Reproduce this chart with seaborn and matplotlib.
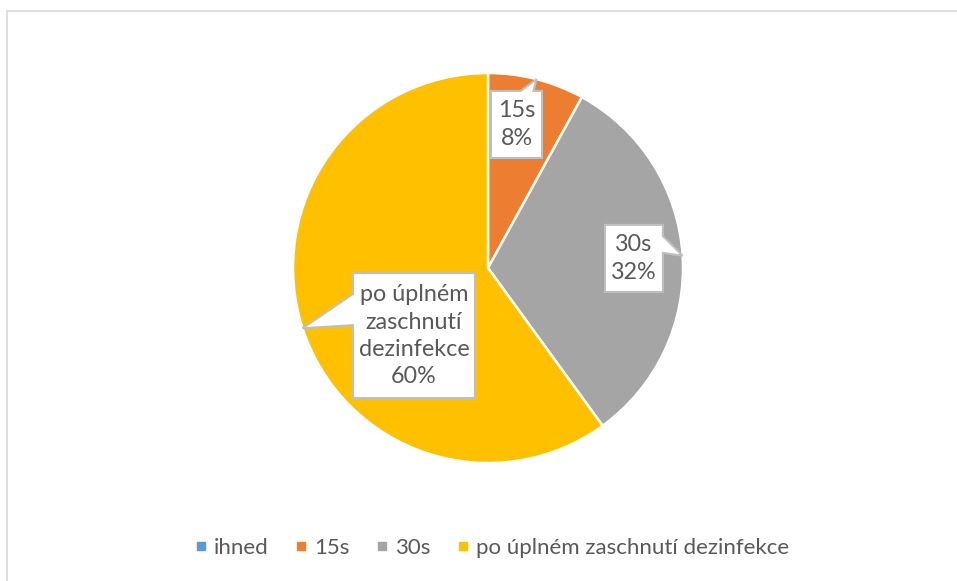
import matplotlib
matplotlib.use("Agg")
import matplotlib.pyplot as plt
from matplotlib.patches import Polygon, Rectangle
from matplotlib.lines import Line2D
import numpy as np
import seaborn as sns

# data
categories = ["ihned", "15s", "30s", "po úplném zaschnutí dezinfekce"]
values = [0, 8, 32, 60]
# label text as wrapped in the chart (empty for the zero slice)
label_names = ["", "15s", "30s", "po úplném\nzaschnutí\ndezinfekce"]
colors = ["#5B9BD5", "#ED7D31", "#A5A5A5", "#FFC000"]

# label boxes (x0, y0, x1, y1) in pie units, radius = 1
label_boxes = [None,
               (0.015, 0.564, 0.277, 0.908),
               (0.600, -0.123, 0.897, 0.221),
               (-0.692, -0.667, -0.067, -0.026)]

sns.set_theme(style="white")
plt.rcParams["font.family"] = ["Lato", "DejaVu Sans"]
text_color = "#595959"

W, H = 957, 581
fig = plt.figure(figsize=(W / 100, H / 100), dpi=100)
fig.patch.set_facecolor("white")

# pie centre (488, 268) px, radius 195 px
R = 195
cx, cy = 488, 268
half = 210
ax = fig.add_axes([(cx - half) / W, 1 - (cy + half) / H, 2 * half / W, 2 * half / H])

palette = sns.color_palette(colors)
ax.pie(values, colors=palette, startangle=90, counterclock=False, radius=1,
       center=(0, 0), frame=False,
       wedgeprops=dict(edgecolor="white", linewidth=1.8))
ax.set_xlim(-half / R, half / R)
ax.set_ylim(-half / R, half / R)
ax.set_aspect("equal")
ax.axis("off")


def callout(ax, box, tip, text):
    x0, y0, x1, y1 = box
    tx, ty = tip
    bx, by = (x0 + x1) / 2, (y0 + y1) / 2
    w, h = x1 - x0, y1 - y0
    dx, dy = (tx - bx) / w, (ty - by) / h
    top = [(x0, y1)]
    right = [(x1, y1)]
    bottom = [(x1, y0)]
    left = [(x0, y0)]
    if abs(dx) > abs(dy):
        if ty > by:
            ya, yb = y1 - 2 / 12 * h, y1 - 5 / 12 * h
        else:
            ya, yb = y0 + 5 / 12 * h, y0 + 2 / 12 * h
        if dx > 0:
            right += [(x1, ya), (tx, ty), (x1, yb)]
        else:
            left += [(x0, yb), (tx, ty), (x0, ya)]
    else:
        if tx > bx:
            xa, xb = x0 + 7 / 12 * w, x0 + 10 / 12 * w
        else:
            xa, xb = x0 + 2 / 12 * w, x0 + 5 / 12 * w
        if dy > 0:
            top += [(xa, y1), (tx, ty), (xb, y1)]
        else:
            bottom += [(xb, y0), (tx, ty), (xa, y0)]
    pts = top + right + bottom + left
    ax.add_patch(Polygon(pts, closed=True, facecolor="white", edgecolor="#BFBFBF",
                         linewidth=1.5, joinstyle="miter", zorder=3))
    ax.text(bx, by, text, ha="center", va="center", fontsize=16.8, color=text_color,
            linespacing=1.36, zorder=4)


total = sum(values)
cum = 0
for name, v, box in zip(label_names, values, label_boxes):
    mid = 90 - 360 * (cum + v / 2) / total
    cum += v
    if box is None or v == 0:
        continue
    tip = (np.cos(np.radians(mid)), np.sin(np.radians(mid)))
    pct = round(v / total * 100)
    callout(ax, box, tip, f"{name}\n{pct}%")

# legend
handles = [Line2D([], [], marker="s", linestyle="", markersize=5.8,
                  markerfacecolor=c, markeredgecolor=c) for c in palette]
leg = fig.legend(handles, categories, loc="center", ncol=4,
                 bbox_to_anchor=(493 / W, 1 - 548 / H), frameon=False,
                 fontsize=16, handlelength=0.4, handletextpad=0.4,
                 columnspacing=1.25, borderaxespad=0)
for t in leg.get_texts():
    t.set_color(text_color)

# chart frame (left and top edges visible)
fig.add_artist(Rectangle((7 / W, -0.05), 1.1, (H - 11) / H + 0.05,
                         transform=fig.transFigure, fill=False,
                         edgecolor="#D9D9D9", linewidth=1.2))

fig.savefig("out.png", dpi=100, facecolor="white")
